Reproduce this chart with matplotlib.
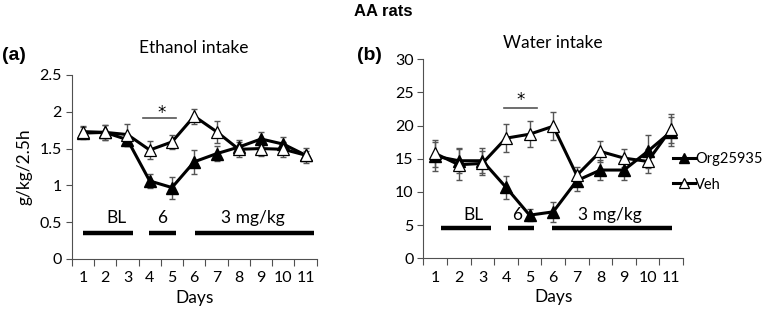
import matplotlib
matplotlib.use("Agg")
import matplotlib.pyplot as plt
import numpy as np

days = [1, 2, 3, 4, 5, 6, 7, 8, 9, 10, 11]
day_labels = [str(d) for d in days]

eth_veh = [1.73, 1.72, 1.69, 1.48, 1.59, 1.94, 1.73, 1.49, 1.50, 1.49, 1.41]
eth_veh_err = [0.08, 0.10, 0.15, 0.12, 0.10, 0.10, 0.15, 0.10, 0.10, 0.10, 0.10]
eth_org = [1.71, 1.72, 1.62, 1.06, 0.97, 1.32, 1.43, 1.52, 1.63, 1.56, 1.41]
eth_org_err = [0.08, 0.10, 0.08, 0.10, 0.15, 0.16, 0.10, 0.10, 0.10, 0.10, 0.06]

wat_veh = [15.8, 14.1, 14.3, 18.1, 18.7, 19.9, 12.5, 16.1, 15.1, 14.6, 19.5]
wat_veh_err = [2.0, 2.3, 1.8, 2.1, 2.0, 2.1, 1.3, 1.6, 1.4, 1.8, 2.2]
wat_org = [15.4, 14.7, 14.7, 10.7, 6.5, 7.0, 11.7, 13.3, 13.3, 16.1, 19.1]
wat_org_err = [2.2, 1.9, 1.9, 1.7, 0.9, 1.5, 1.5, 1.5, 1.5, 2.5, 2.2]

series_names = ["Org25935", "Veh"]

FONT = "Lato"
BOLD = "Liberation Sans"
TICK_FS = 11.5
LAB_FS = 12.5

fig = plt.figure(figsize=(7.67, 3.15), dpi=100)

axA = fig.add_axes([0.0935, 0.178, 0.3195, 0.584])
axB = fig.add_axes([0.552, 0.180, 0.3385, 0.632])

def style(ax, ymax, ystep):
    ax.set_xlim(0.5, 11.5)
    ax.set_ylim(0, ymax)
    ticks = np.arange(0, ymax + ystep / 2, ystep)
    ax.set_yticks(ticks)
    ax.set_yticklabels([("%g" % v) for v in ticks], fontfamily=FONT, fontsize=TICK_FS)
    ax.set_xticks(np.arange(0.5, 12, 1))
    ax.set_xticklabels([])
    ax.set_xticks(days, minor=True)
    ax.set_xticklabels(day_labels, minor=True, fontfamily=FONT, fontsize=TICK_FS)
    ax.tick_params(axis="x", which="minor", length=0, pad=9)
    ax.tick_params(axis="x", which="major", length=5, color="#505050", width=0.8)
    ax.tick_params(axis="y", length=4, color="#505050", width=0.8, pad=3)
    for s in ["top", "right"]:
        ax.spines[s].set_visible(False)
    for s in ["left", "bottom"]:
        ax.spines[s].set_color("#505050")
        ax.spines[s].set_linewidth(0.8)
    ax.set_xlabel("Days", fontfamily=FONT, fontsize=LAB_FS, labelpad=3)

def draw(ax, org, org_err, veh, veh_err):
    ax.errorbar(days, org, yerr=org_err, fmt="none", ecolor="#555555", elinewidth=1, capsize=2.5, capthick=1, zorder=2)
    ax.errorbar(days, veh, yerr=veh_err, fmt="none", ecolor="#555555", elinewidth=1, capsize=2.5, capthick=1, zorder=2)
    l1, = ax.plot(days, org, color="black", lw=2.2, marker="^", ms=9, mfc="black", mec="black", zorder=3, label=series_names[0])
    l2, = ax.plot(days, veh, color="black", lw=2.2, marker="^", ms=9, mfc="white", mec="black", mew=0.9, zorder=4, label=series_names[1])
    return l1, l2

# Panel a
style(axA, 2.5, 0.5)
draw(axA, eth_org, eth_org_err, eth_veh, eth_veh_err)
axA.set_ylabel("g/kg/2.5h", fontfamily=FONT, fontsize=LAB_FS, labelpad=5)
axA.set_title("Ethanol intake", fontfamily=FONT, fontsize=LAB_FS, pad=16)
for x0, x1 in [(1.0, 3.26), (3.98, 5.18), (6.03, 11.37)]:
    axA.plot([x0, x1], [0.35, 0.35], color="black", lw=3.2, solid_capstyle="butt", clip_on=False)
axA.text(2.52, 0.56, "BL", ha="center", va="center", fontfamily=FONT, fontsize=LAB_FS)
axA.text(4.58, 0.56, "6", ha="center", va="center", fontfamily=FONT, fontsize=LAB_FS)
axA.text(8.63, 0.56, "3 mg/kg", ha="center", va="center", fontfamily=FONT, fontsize=LAB_FS)
axA.plot([3.71, 5.2], [1.91, 1.91], color="#555555", lw=1.2)
axA.text(4.53, 1.98, "*", ha="center", va="center", fontfamily="DejaVu Sans", fontsize=12)

# Panel b
style(axB, 30, 5)
l1, l2 = draw(axB, wat_org, wat_org_err, wat_veh, wat_veh_err)
axB.set_title("Water intake", fontfamily=FONT, fontsize=LAB_FS, pad=8)
for x0, x1 in [(1.25, 3.36), (4.08, 5.19), (5.97, 11.04)]:
    axB.plot([x0, x1], [4.5, 4.5], color="black", lw=3.2, solid_capstyle="butt", clip_on=False)
axB.text(2.62, 6.6, "BL", ha="center", va="center", fontfamily=FONT, fontsize=LAB_FS)
axB.text(4.48, 6.6, "6", ha="center", va="center", fontfamily=FONT, fontsize=LAB_FS)
axB.text(8.4, 6.6, "3 mg/kg", ha="center", va="center", fontfamily=FONT, fontsize=LAB_FS)
axB.plot([3.92, 5.33], [22.7, 22.7], color="#555555", lw=1.2)
axB.text(4.62, 23.9, "*", ha="center", va="center", fontfamily="DejaVu Sans", fontsize=12)

fig.legend(handles=[l1, l2], labels=series_names, loc="center left",
           bbox_to_anchor=(0.877, 0.455), frameon=False, handlelength=1.5,
           handletextpad=0.05, labelspacing=0.8, borderaxespad=0, borderpad=0,
           prop={"family": FONT, "size": 10.5}, markerscale=0.75)

fig.text(0.5, 0.962, "AA rats", ha="center", va="center", fontfamily=BOLD, fontweight="bold", fontsize=12)
fig.text(0.002, 0.824, "(a)", ha="left", va="center", fontfamily=BOLD, fontweight="bold", fontsize=14)
fig.text(0.466, 0.824, "(b)", ha="left", va="center", fontfamily=BOLD, fontweight="bold", fontsize=14)

fig.savefig("out.png", dpi=100)
